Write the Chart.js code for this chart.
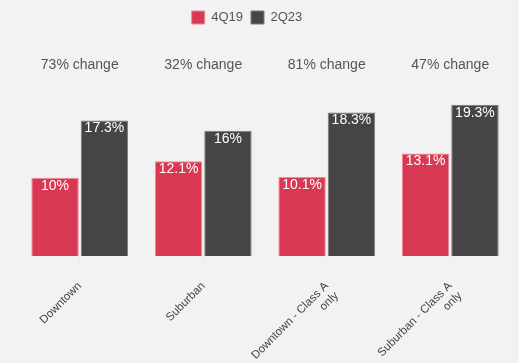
<!DOCTYPE html>
<html>
<head>
<meta charset="utf-8">
<script src="https://cdn.jsdelivr.net/npm/chart.js@4"></script>
<style>
  html, body { margin: 0; padding: 0; background: #f2f2f2; }
  #wrap { width: 519px; height: 363px; }
</style>
</head>
<body>
<div id="wrap"><canvas id="myChart"></canvas></div>
<script>
// categorias, series y etiquetas de cambio
const categorias = [['Downtown'], ['Suburban'], ['Downtown - Class A', 'only'], ['Suburban - Class A', 'only']];
const serie4Q19 = [10, 12.1, 10.1, 13.1];
const serie2Q23 = [17.3, 16, 18.3, 19.3];
const cambios = ['73% change', '32% change', '81% change', '47% change'];

const fuente = '"Liberation Sans", Arial, sans-serif';

// pinta el valor dentro de cada barra y el texto de cambio arriba
const etiquetas = {
    id: 'etiquetas',
    beforeInit(chart) {
        // mas espacio debajo de la leyenda
        const fitOrig = chart.legend.fit;
        chart.legend.fit = function () {
            fitOrig.call(this);
            this.height += 26;
        };
    },
    afterLayout(chart) {
        // la leyenda va un poco a la izquierda
        chart.legend.left -= 18;
        chart.legend.right -= 18;
    },
    afterDatasetsDraw(chart) {
        const ctx = chart.ctx;
        ctx.save();
        ctx.textAlign = 'center';
        ctx.textBaseline = 'top';
        ctx.fillStyle = '#ffffff';
        ctx.font = '14px ' + fuente;
        chart.data.datasets.forEach((ds, i) => {
            chart.getDatasetMeta(i).data.forEach((bar, j) => {
                ctx.fillText(ds.data[j] + '%', bar.x, bar.y + 1);
            });
        });
        ctx.font = '14px ' + fuente;
        ctx.fillStyle = '#555555';
        ctx.textBaseline = 'middle';
        const xScale = chart.scales.x;
        cambios.forEach((texto, j) => {
            ctx.fillText(texto, xScale.getPixelForValue(j), chart.chartArea.top + 5);
        });
        ctx.restore();
    }
};

const ctx = document.getElementById('myChart');
const myChart = new Chart(ctx, {
    type: 'bar',
    data: {
        labels: categorias,
        datasets: [{
            label: '4Q19',
            data: serie4Q19,
            backgroundColor: '#d93853',
            borderColor: '#ee8a99',
            borderWidth: 1
        }, {
            label: '2Q23',
            data: serie2Q23,
            backgroundColor: '#454545',
            borderColor: '#7a7a7a',
            borderWidth: 1
        }]
    },
    options: {
        responsive: true,
        maintainAspectRatio: false,
        animation: false,
        layout: { padding: { left: 18, right: 7, top: 3, bottom: 0 } },
        categoryPercentage: 0.8,
        barPercentage: 0.96,
        plugins: {
            legend: {
                position: 'top',
                labels: {
                    boxWidth: 13,
                    boxHeight: 13,
                    padding: 8,
                    color: '#555555',
                    font: { size: 13, family: fuente }
                }
            },
            tooltip: { enabled: false }
        },
        scales: {
            x: {
                grid: { drawOnChartArea: false, offset: false, tickLength: 6, color: '#ebebeb' },
                border: { display: false },
                afterFit(scale) {
                    scale.height -= 26;
                },
                ticks: {
                    maxRotation: 45,
                    minRotation: 45,
                    padding: 17,
                    color: '#444444',
                    font: { size: 11.5, family: fuente }
                }
            },
            y: {
                display: false,
                min: 0,
                max: 25
            }
        }
    },
    plugins: [etiquetas]
});
</script>
</body>
</html>
